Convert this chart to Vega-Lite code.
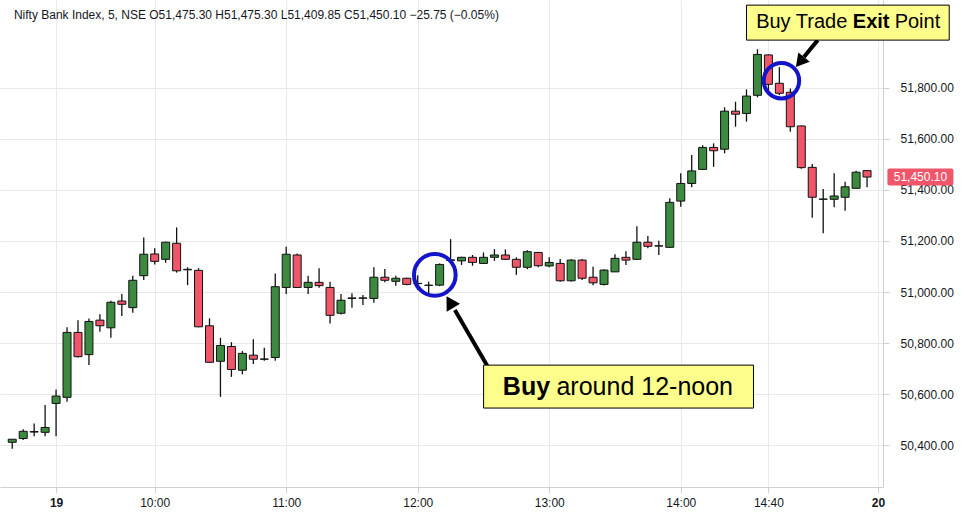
{
  "$schema": "https://vega.github.io/schema/vega-lite/v6.json",
  "width": 883,
  "height": 487,
  "autosize": {"type": "none"},
  "padding": {"left": 0, "top": 0, "right": 81, "bottom": 38},
  "background": "white",
  "layer": [
    {
      "data": {
        "values": [
          {"i": -4, "open": 50412, "high": 50424, "low": 50387, "close": 50424},
          {"i": -3, "open": 50427, "high": 50463, "low": 50421, "close": 50455},
          {"i": -2, "open": 50452, "high": 50486, "low": 50436, "close": 50454},
          {"i": -1, "open": 50451, "high": 50558, "low": 50436, "close": 50470},
          {"i": 0, "open": 50564, "high": 50619, "low": 50436, "close": 50593},
          {"i": 1, "open": 50588, "high": 50862, "low": 50571, "close": 50842},
          {"i": 2, "open": 50842, "high": 50890, "low": 50744, "close": 50747},
          {"i": 3, "open": 50755, "high": 50896, "low": 50714, "close": 50885},
          {"i": 4, "open": 50890, "high": 50913, "low": 50845, "close": 50868},
          {"i": 5, "open": 50860, "high": 50966, "low": 50821, "close": 50960},
          {"i": 6, "open": 50965, "high": 50992, "low": 50906, "close": 50952},
          {"i": 7, "open": 50939, "high": 51064, "low": 50919, "close": 51046},
          {"i": 8, "open": 51064, "high": 51213, "low": 51047, "close": 51148},
          {"i": 9, "open": 51149, "high": 51171, "low": 51108, "close": 51120},
          {"i": 10, "open": 51128, "high": 51197, "low": 51115, "close": 51195},
          {"i": 11, "open": 51191, "high": 51253, "low": 51076, "close": 51083},
          {"i": 12, "open": 51089, "high": 51097, "low": 51027, "close": 51087},
          {"i": 13, "open": 51085, "high": 51093, "low": 50862, "close": 50864},
          {"i": 14, "open": 50868, "high": 50897, "low": 50723, "close": 50725},
          {"i": 15, "open": 50729, "high": 50821, "low": 50590, "close": 50791},
          {"i": 16, "open": 50787, "high": 50804, "low": 50668, "close": 50697},
          {"i": 17, "open": 50694, "high": 50769, "low": 50678, "close": 50760},
          {"i": 18, "open": 50753, "high": 50815, "low": 50718, "close": 50737},
          {"i": 19, "open": 50737, "high": 50782, "low": 50731, "close": 50738},
          {"i": 20, "open": 50744, "high": 51073, "low": 50731, "close": 51021},
          {"i": 21, "open": 51018, "high": 51177, "low": 50992, "close": 51148},
          {"i": 22, "open": 51145, "high": 51151, "low": 51017, "close": 51018},
          {"i": 23, "open": 51018, "high": 51064, "low": 50992, "close": 51038},
          {"i": 24, "open": 51038, "high": 51093, "low": 51017, "close": 51025},
          {"i": 25, "open": 51018, "high": 51040, "low": 50877, "close": 50909},
          {"i": 26, "open": 50917, "high": 50992, "low": 50912, "close": 50968},
          {"i": 27, "open": 50975, "high": 50995, "low": 50939, "close": 50977},
          {"i": 28, "open": 50976, "high": 50988, "low": 50949, "close": 50977},
          {"i": 29, "open": 50975, "high": 51097, "low": 50958, "close": 51058},
          {"i": 30, "open": 51058, "high": 51090, "low": 51038, "close": 51046},
          {"i": 31, "open": 51042, "high": 51064, "low": 51025, "close": 51054},
          {"i": 32, "open": 51054, "high": 51056, "low": 51027, "close": 51030},
          {"i": 33, "open": 51034, "high": 51066, "low": 51008, "close": 51033},
          {"i": 34, "open": 51027, "high": 51040, "low": 50991, "close": 51026},
          {"i": 35, "open": 51027, "high": 51112, "low": 51023, "close": 51108},
          {"i": 36, "open": 51124, "high": 51207, "low": 51115, "close": 51126},
          {"i": 37, "open": 51122, "high": 51138, "low": 51106, "close": 51136},
          {"i": 38, "open": 51136, "high": 51145, "low": 51103, "close": 51116},
          {"i": 39, "open": 51112, "high": 51155, "low": 51110, "close": 51136},
          {"i": 40, "open": 51136, "high": 51168, "low": 51122, "close": 51145},
          {"i": 41, "open": 51145, "high": 51167, "low": 51126, "close": 51128},
          {"i": 42, "open": 51128, "high": 51136, "low": 51067, "close": 51097},
          {"i": 43, "open": 51097, "high": 51164, "low": 51089, "close": 51158},
          {"i": 44, "open": 51155, "high": 51157, "low": 51097, "close": 51103},
          {"i": 45, "open": 51102, "high": 51136, "low": 51097, "close": 51116},
          {"i": 46, "open": 51112, "high": 51129, "low": 51040, "close": 51044},
          {"i": 47, "open": 51044, "high": 51128, "low": 51041, "close": 51125},
          {"i": 48, "open": 51125, "high": 51129, "low": 51047, "close": 51054},
          {"i": 49, "open": 51058, "high": 51099, "low": 51027, "close": 51036},
          {"i": 50, "open": 51030, "high": 51089, "low": 51026, "close": 51086},
          {"i": 51, "open": 51079, "high": 51148, "low": 51078, "close": 51132},
          {"i": 52, "open": 51136, "high": 51160, "low": 51106, "close": 51125},
          {"i": 53, "open": 51128, "high": 51258, "low": 51125, "close": 51195},
          {"i": 54, "open": 51195, "high": 51219, "low": 51171, "close": 51179},
          {"i": 55, "open": 51180, "high": 51201, "low": 51145, "close": 51181},
          {"i": 56, "open": 51175, "high": 51367, "low": 51173, "close": 51351},
          {"i": 57, "open": 51356, "high": 51465, "low": 51334, "close": 51425},
          {"i": 58, "open": 51425, "high": 51536, "low": 51410, "close": 51474},
          {"i": 59, "open": 51480, "high": 51575, "low": 51478, "close": 51566},
          {"i": 60, "open": 51566, "high": 51582, "low": 51490, "close": 51553},
          {"i": 61, "open": 51559, "high": 51723, "low": 51543, "close": 51708},
          {"i": 62, "open": 51708, "high": 51745, "low": 51647, "close": 51696},
          {"i": 63, "open": 51699, "high": 51793, "low": 51667, "close": 51767},
          {"i": 64, "open": 51770, "high": 51950, "low": 51762, "close": 51930},
          {"i": 65, "open": 51928, "high": 51930, "low": 51778, "close": 51813},
          {"i": 66, "open": 51817, "high": 51880, "low": 51771, "close": 51778},
          {"i": 67, "open": 51782, "high": 51797, "low": 51627, "close": 51647},
          {"i": 68, "open": 51650, "high": 51652, "low": 51483, "close": 51487},
          {"i": 69, "open": 51488, "high": 51501, "low": 51291, "close": 51371},
          {"i": 70, "open": 51363, "high": 51403, "low": 51230, "close": 51364},
          {"i": 71, "open": 51363, "high": 51465, "low": 51332, "close": 51376},
          {"i": 72, "open": 51371, "high": 51432, "low": 51318, "close": 51412},
          {"i": 73, "open": 51406, "high": 51475, "low": 51406, "close": 51469},
          {"i": 74, "open": 51475.3, "high": 51475.3, "low": 51409.85, "close": 51450.1}
        ]
      },
      "layer": [
        {
          "mark": {"type": "rule", "color": "#111111", "strokeWidth": 1.3},
          "encoding": {
            "x": {
              "field": "i",
              "type": "quantitative",
              "scale": {"domain": [-4.66, 75.0], "nice": false, "zero": false},
              "axis": {
                "title": null,
                "values": [0, 9, 21, 33, 45, 57, 65, 75],
                "labelExpr": "datum.value == 0 ? '19' : datum.value == 9 ? '10:00' : datum.value == 21 ? '11:00' : datum.value == 33 ? '12:00' : datum.value == 45 ? '13:00' : datum.value == 57 ? '14:00' : datum.value == 65 ? '14:40' : '20'",
                "labelFontWeight": {"condition": {"test": "datum.value == 0 || datum.value == 75", "value": "bold"}, "value": "normal"},
                "labelFlush": false,
                "labelOverlap": false,
                "tickSize": 6,
                "labelPadding": 4,
                "grid": true
              }
            },
            "y": {
              "field": "low",
              "type": "quantitative",
              "scale": {"domain": [50237, 52143], "nice": false, "zero": false},
              "axis": {
                "title": null,
                "orient": "right",
                "values": [50400, 50600, 50800, 51000, 51200, 51400, 51600, 51800],
                "format": ",.2f",
                "labelFlush": false,
                "labelOverlap": false,
                "tickSize": 6,
                "labelPadding": 11,
                "grid": true
              }
            },
            "y2": {"field": "high"}
          }
        },
        {
          "mark": {"type": "bar", "width": 8, "stroke": "#111111", "strokeWidth": 1},
          "encoding": {
            "x": {"field": "i", "type": "quantitative"},
            "y": {"field": "open", "type": "quantitative"},
            "y2": {"field": "close"},
            "fill": {
              "condition": {"test": "datum.close >= datum.open", "value": "#3b8a3f"},
              "value": "#f0566a"
            }
          }
        },
        {
          "transform": [{"filter": "datum.i == 74"}],
          "mark": {"type": "rect", "width": 66, "height": 17, "fill": "#f0566a", "cornerRadius": 2},
          "encoding": {
            "x": {"datum": 78.87, "type": "quantitative"},
            "y": {"field": "close", "type": "quantitative"}
          }
        },
        {
          "transform": [{"filter": "datum.i == 74"}],
          "mark": {"type": "text", "font": "Liberation Sans", "fontSize": 12, "color": "#ffffff", "align": "center", "baseline": "middle"},
          "encoding": {
            "x": {"datum": 78.87, "type": "quantitative"},
            "y": {"field": "close", "type": "quantitative"},
            "text": {"field": "close", "type": "quantitative", "format": ",.2f"}
          }
        }
      ]
    },
    {
      "data": {"values": [{"label": "Nifty Bank Index, 5, NSE  O51,475.30  H51,475.30  L51,409.85  C51,450.10  −25.75 (−0.05%)"}]},
      "mark": {"type": "text", "font": "Liberation Sans", "fontSize": 12, "color": "#131722", "align": "left", "baseline": "alphabetic"},
      "encoding": {
        "x": {"datum": -3.85, "type": "quantitative"},
        "y": {"datum": 52068, "type": "quantitative"},
        "text": {"field": "label", "type": "nominal"}
      }
    },
    {
      "data": {"values": [{}]},
      "mark": {"type": "point", "shape": "circle", "filled": false, "stroke": "#1414c8", "strokeWidth": 4, "size": 1735, "opacity": 1},
      "encoding": {
        "x": {"datum": 34.56, "type": "quantitative"},
        "y": {"datum": 51067, "type": "quantitative"}
      }
    },
    {
      "data": {"values": [{}]},
      "mark": {"type": "point", "shape": "circle", "filled": false, "stroke": "#1414c8", "strokeWidth": 4, "size": 1257, "opacity": 1},
      "encoding": {
        "x": {"datum": 66.19, "type": "quantitative"},
        "y": {"datum": 51827, "type": "quantitative"}
      }
    },
    {
      "data": {"values": [{}]},
      "mark": {"type": "rule", "color": "#000000", "strokeWidth": 4},
      "encoding": {
        "x": {"datum": 39.37, "type": "quantitative"},
        "y": {"datum": 50710, "type": "quantitative"},
        "x2": {"datum": 36.39},
        "y2": {"datum": 50930}
      }
    },
    {
      "data": {"values": [{}]},
      "mark": {"type": "point", "shape": "triangle-up", "filled": true, "color": "#000000", "size": 240, "angle": 329.5, "opacity": 1},
      "encoding": {
        "x": {"datum": 35.94, "type": "quantitative"},
        "y": {"datum": 50961, "type": "quantitative"}
      }
    },
    {
      "data": {"values": [{}]},
      "mark": {"type": "rule", "color": "#000000", "strokeWidth": 4},
      "encoding": {
        "x": {"datum": 69.5, "type": "quantitative"},
        "y": {"datum": 51986, "type": "quantitative"},
        "x2": {"datum": 68.24},
        "y2": {"datum": 51920}
      }
    },
    {
      "data": {"values": [{}]},
      "mark": {"type": "point", "shape": "triangle-up", "filled": true, "color": "#000000", "size": 220, "angle": 219.3, "opacity": 1},
      "encoding": {
        "x": {"datum": 67.88, "type": "quantitative"},
        "y": {"datum": 51900, "type": "quantitative"}
      }
    },
    {
      "data": {"values": [{}]},
      "mark": {"type": "rect", "fill": "#fdfd8c", "stroke": "#000000", "strokeWidth": 1},
      "encoding": {
        "x": {"datum": 39.01, "type": "quantitative"},
        "x2": {"datum": 63.64},
        "y": {"datum": 50714, "type": "quantitative"},
        "y2": {"datum": 50546}
      }
    },
    {
      "data": {"values": [{}]},
      "mark": {"type": "rect", "fill": "#fdfd8c", "stroke": "#000000", "strokeWidth": 1},
      "encoding": {
        "x": {"datum": 63.0, "type": "quantitative"},
        "x2": {"datum": 81.5},
        "y": {"datum": 52123, "type": "quantitative"},
        "y2": {"datum": 51986}
      }
    },
    {
      "data": {"values": [{}]},
      "mark": {"type": "text", "text": "Buy", "font": "Liberation Sans", "fontSize": 25, "fontWeight": "bold", "align": "left", "baseline": "middle", "color": "#000000"},
      "encoding": {
        "x": {"datum": 40.77, "type": "quantitative"},
        "y": {"datum": 50630, "type": "quantitative"}
      }
    },
    {
      "data": {"values": [{}]},
      "mark": {"type": "text", "text": "around 12-noon", "font": "Liberation Sans", "fontSize": 25, "fontWeight": "normal", "align": "left", "baseline": "middle", "color": "#000000"},
      "encoding": {
        "x": {"datum": 45.66, "type": "quantitative"},
        "y": {"datum": 50630, "type": "quantitative"}
      }
    },
    {
      "data": {"values": [{}]},
      "mark": {"type": "text", "text": "Buy Trade", "font": "Liberation Sans", "fontSize": 20, "fontWeight": "normal", "align": "left", "baseline": "middle", "color": "#000000"},
      "encoding": {
        "x": {"datum": 63.88, "type": "quantitative"},
        "y": {"datum": 52055, "type": "quantitative"}
      }
    },
    {
      "data": {"values": [{}]},
      "mark": {"type": "text", "text": "Exit", "font": "Liberation Sans", "fontSize": 20, "fontWeight": "bold", "align": "left", "baseline": "middle", "color": "#000000"},
      "encoding": {
        "x": {"datum": 72.7, "type": "quantitative"},
        "y": {"datum": 52055, "type": "quantitative"}
      }
    },
    {
      "data": {"values": [{}]},
      "mark": {"type": "text", "text": "Point", "font": "Liberation Sans", "fontSize": 20, "fontWeight": "normal", "align": "left", "baseline": "middle", "color": "#000000"},
      "encoding": {
        "x": {"datum": 76.52, "type": "quantitative"},
        "y": {"datum": 52055, "type": "quantitative"}
      }
    }
  ],
  "config": {
    "view": {"stroke": null},
    "axis": {
      "labelFont": "Liberation Sans",
      "labelFontSize": 12,
      "labelColor": "#131722",
      "gridColor": "#e9e9e9",
      "gridWidth": 1,
      "tickColor": "#d0d0d0",
      "domainColor": "#d0d0d0"
    }
  }
}
